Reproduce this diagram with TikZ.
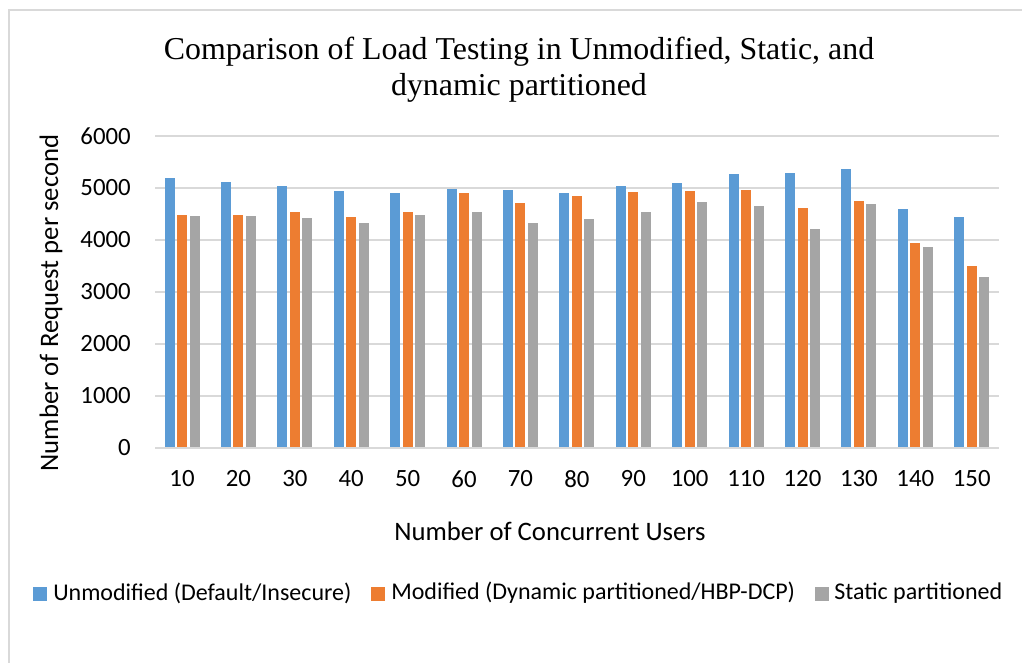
\documentclass[tikz,border=0pt]{standalone}
\usepackage{fontspec}
\setmainfont{Carlito}
\newfontfamily\titlefont{Liberation Serif}
\definecolor{cblue}{HTML}{5B9BD5}
\definecolor{corange}{HTML}{ED7D31}
\definecolor{cgray}{HTML}{A5A5A5}
\definecolor{gridc}{HTML}{D9D9D9}
\tikzset{
  gridline/.style={draw=gridc, line width=1.1pt},
  ticklab/.style={font=\fontsize{18.6pt}{21pt}\selectfont, inner sep=0pt},
  axtitle/.style={font=\fontsize{20pt}{24pt}\selectfont, inner sep=0pt},
  legtext/.style={font=\fontsize{18pt}{21pt}\selectfont, inner sep=0pt, anchor=west},
  titlestyle/.style={font=\titlefont\fontsize{23.9pt}{27pt}\selectfont, align=center, inner sep=0pt},
}
\begin{document}
\begin{tikzpicture}[x=0.75pt,y=-0.75pt]
\useasboundingbox (0,0) rectangle (1022,662);
\fill[white] (0,0) rectangle (1022,662);
\begin{scope}
\clip (0,0) rectangle (1022,662);
\draw[gridc, line width=1.1pt] (9,10) rectangle (1040,680);
\end{scope}
% title
\node[titlestyle, anchor=base] (title1) at (519,59) {Comparison of Load Testing in Unmodified, Static, and};
\node[titlestyle, anchor=base] (title2) at (519,95) {dynamic partitioned};
% gridlines and y ticks
\foreach \v in {0,...,6}{
  \draw[gridline] (155,{448-52*\v}) -- (999,{448-52*\v});
}
\node[ticklab, anchor=east] (y0) at (131,448) {0};
\node[ticklab, anchor=east] (y1) at (131,396) {1000};
\node[ticklab, anchor=east] (y2) at (131,344) {2000};
\node[ticklab, anchor=east] (y3) at (131,292) {3000};
\node[ticklab, anchor=east] (y4) at (131,240) {4000};
\node[ticklab, anchor=east] (y5) at (131,188) {5000};
\node[ticklab, anchor=east] (y6) at (131,136) {6000};
% bars
\foreach \i/\lab/\a/\b/\c in {0/10/5190/4480/4470, 1/20/5120/4490/4470, 2/30/5040/4540/4420,
  3/40/4940/4450/4320, 4/50/4900/4530/4480, 5/60/4990/4900/4530, 6/70/4970/4720/4320,
  7/80/4900/4840/4400, 8/90/5040/4920/4530, 9/100/5090/4950/4730, 10/110/5270/4960/4650,
  11/120/5295/4610/4220, 12/130/5370/4750/4690, 13/140/4590/3950/3865, 14/150/4436/3500/3294}{
  \pgfmathsetmacro\xc{182+56.41*\i}
  \fill[cblue] ({\xc-17.5},447) rectangle ({\xc-7.5},{448-0.052*\a});
  \fill[corange] ({\xc-5},447) rectangle ({\xc+5},{448-0.052*\b});
  \fill[cgray] ({\xc+7.5},447) rectangle ({\xc+17.5},{448-0.052*\c});
  \node[ticklab] (x\i) at (\xc,479) {\lab};
}
% axis titles
\node[axtitle] (xtitle) at (550,531) {Number of Concurrent Users};
\node[axtitle, rotate=90] (ytitle) at (51,303) {Number of Request per second};
% legend
\fill[cblue] (33,587) rectangle (47,601);
\node[legtext] (leg1) at (53,593) {Unmodified (Default/Insecure)};
\fill[corange] (371,587) rectangle (385,601);
\node[legtext] (leg2) at (391,593) {Modified (Dynamic partitioned/HBP-DCP)};
\fill[cgray] (815,587) rectangle (829,601);
\node[legtext] (leg3) at (834,593) {Static partitioned};
\end{tikzpicture}
\end{document}
